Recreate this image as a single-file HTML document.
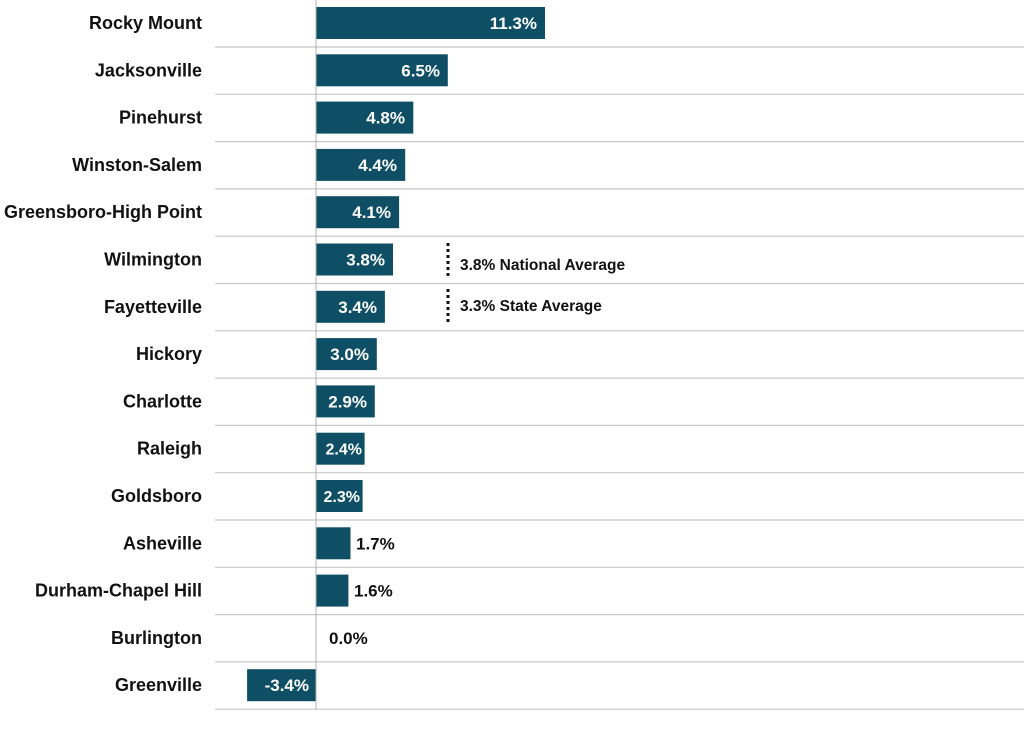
<!DOCTYPE html>
<html><head><style>
body{margin:0;background:#fff;}
svg text{font-family:"Liberation Sans",sans-serif;font-weight:bold;font-size:17px;fill:#111;}
.n{text-anchor:end;font-size:18px;}
.w{fill:#fff;text-anchor:end;}
</style></head><body>
<svg width="1024" height="743" xmlns="http://www.w3.org/2000/svg">
<g stroke="#c8c8c8" stroke-width="1.2">
<line x1="215" x2="1024" y1="47" y2="47"/><line x1="215" x2="1024" y1="94.3" y2="94.3"/>
<line x1="215" x2="1024" y1="141.6" y2="141.6"/><line x1="215" x2="1024" y1="188.9" y2="188.9"/>
<line x1="215" x2="1024" y1="236.2" y2="236.2"/><line x1="215" x2="1024" y1="283.5" y2="283.5"/>
<line x1="215" x2="1024" y1="330.8" y2="330.8"/><line x1="215" x2="1024" y1="378.1" y2="378.1"/>
<line x1="215" x2="1024" y1="425.4" y2="425.4"/><line x1="215" x2="1024" y1="472.7" y2="472.7"/>
<line x1="215" x2="1024" y1="520" y2="520"/><line x1="215" x2="1024" y1="567.3" y2="567.3"/>
<line x1="215" x2="1024" y1="614.6" y2="614.6"/><line x1="215" x2="1024" y1="661.9" y2="661.9"/>
<line x1="215" x2="1024" y1="709.2" y2="709.2"/>
</g>
<g fill="#0e4f66">
<rect x="316" y="7" width="229" height="32"/>
<rect x="316" y="54.3" width="131.8" height="32"/>
<rect x="316" y="101.6" width="97.3" height="32"/>
<rect x="316" y="148.9" width="89.2" height="32"/>
<rect x="316" y="196.2" width="83.1" height="32"/>
<rect x="316" y="243.5" width="77" height="32"/>
<rect x="316" y="290.8" width="68.9" height="32"/>
<rect x="316" y="338.1" width="60.8" height="32"/>
<rect x="316" y="385.4" width="58.8" height="32"/>
<rect x="316" y="432.7" width="48.6" height="32"/>
<rect x="316" y="480" width="46.6" height="32"/>
<rect x="316" y="527.3" width="34.5" height="32"/>
<rect x="316" y="574.6" width="32.4" height="32"/>
<rect x="247.1" y="669.2" width="68.9" height="32"/>
</g>
<line x1="316" x2="316" y1="0" y2="710" stroke="#b0b0b0" stroke-width="1"/>
<text class="n" x="202" y="29">Rocky Mount</text>
<text class="n" x="202" y="76.3">Jacksonville</text>
<text class="n" x="202" y="123.6">Pinehurst</text>
<text class="n" x="202" y="170.9">Winston-Salem</text>
<text class="n" x="202" y="218.2">Greensboro-High Point</text>
<text class="n" x="202" y="265.5">Wilmington</text>
<text class="n" x="202" y="312.8">Fayetteville</text>
<text class="n" x="202" y="360.1">Hickory</text>
<text class="n" x="202" y="407.4">Charlotte</text>
<text class="n" x="202" y="454.7">Raleigh</text>
<text class="n" x="202" y="502">Goldsboro</text>
<text class="n" x="202" y="549.3">Asheville</text>
<text class="n" x="202" y="596.6">Durham-Chapel Hill</text>
<text class="n" x="202" y="643.9">Burlington</text>
<text class="n" x="202" y="691.2">Greenville</text>
<text class="w" x="537" y="29">11.3%</text>
<text class="w" x="440" y="76.3">6.5%</text>
<text class="w" x="405" y="123.6">4.8%</text>
<text class="w" x="397" y="170.9">4.4%</text>
<text class="w" x="391" y="218.2">4.1%</text>
<text class="w" x="385" y="265.5">3.8%</text>
<text class="w" x="377" y="312.8">3.4%</text>
<text class="w" x="369" y="360.1">3.0%</text>
<text class="w" x="367" y="407.4">2.9%</text>
<text class="w" x="362" y="454.7" style="font-size:16px">2.4%</text>
<text class="w" x="360" y="502" style="font-size:16px">2.3%</text>
<text x="356" y="549.3">1.7%</text>
<text x="354" y="596.6">1.6%</text>
<text x="329" y="643.9">0.0%</text>
<text class="w" x="309" y="691.2">-3.4%</text>
<line x1="448" x2="448" y1="243" y2="278" stroke="#111" stroke-width="3" stroke-dasharray="3,3"/>
<line x1="448" x2="448" y1="289" y2="325" stroke="#111" stroke-width="3" stroke-dasharray="3,3"/>
<text x="460" y="270" style="font-size:15.5px">3.8% National Average</text>
<text x="460" y="311" style="font-size:15.5px">3.3% State Average</text>
</svg>
</body></html>
